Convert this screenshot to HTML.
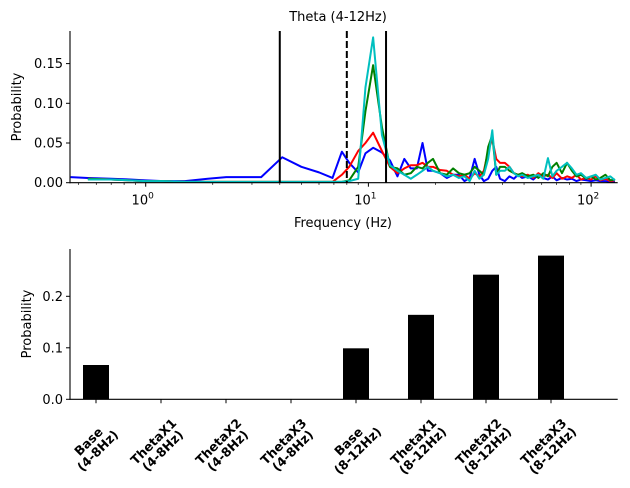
<!DOCTYPE html>
<html><head><meta charset="utf-8"><style>
html,body{margin:0;padding:0;background:#fff}
svg{display:block;font-family:"DejaVu Sans","Liberation Sans",sans-serif}
</style></head><body>
<svg id="fig" width="630" height="488" viewBox="0 0 630 488" xmlns="http://www.w3.org/2000/svg">
<g id="topPanel"></g>
<g id="botPanel"></g>
</svg>
<script>
const freqs=[0.46,0.55,0.7,0.85,1.0,1.2,1.5,1.9,2.3,3.3,4.1,5.0,6.0,6.9,7.6,8.2,9.0,9.7,10.5,11.5,12.5,13.5,14.5,15.5,16.5,17.5,18.5,19.5,21,22.5,24,25.5,27,28.5,30,31.5,33,34.5,36,37.5,39,41,43,45,47,49,52,55,58,61,64,67,70,74,78,82,86,90,95,100,105,110,116,122,128];
const blueVals=[0.007,0.006,0.005,0.004,0.003,0.002,0.002,0.005,0.007,0.007,0.032,0.02,0.013,0.006,0.039,0.025,0.013,0.037,0.044,0.038,0.028,0.008,0.03,0.018,0.018,0.05,0.015,0.015,0.012,0.006,0.01,0.01,0.002,0.006,0.03,0.01,0.002,0.005,0.015,0.02,0.005,0.002,0.008,0.005,0.01,0.006,0.008,0.004,0.01,0.006,0.004,0.008,0.003,0.006,0.004,0.005,0.002,0.004,0.003,0.002,0.003,0.002,0.002,0.001,0.001];
const redVals=[null,0.005,0.004,0.003,0.002,0.002,0.001,0.001,0.001,0.001,0.001,0.001,0.001,0.001,0.01,0.02,0.04,0.05,0.063,0.04,0.02,0.012,0.018,0.022,0.022,0.025,0.02,0.02,0.016,0.015,0.01,0.008,0.01,0.005,0.012,0.008,0.015,0.04,0.055,0.03,0.025,0.025,0.02,0.012,0.01,0.008,0.01,0.006,0.012,0.008,0.01,0.006,0.012,0.005,0.008,0.006,0.01,0.004,0.006,0.004,0.008,0.003,0.005,0.002,0.003];
const greenVals=[null,0.005,0.004,0.003,0.002,0.002,0.001,0.001,0.001,0.001,0.001,0.001,0.001,0.001,0.001,0.003,0.02,0.09,0.148,0.07,0.02,0.018,0.01,0.012,0.02,0.018,0.025,0.03,0.012,0.01,0.018,0.012,0.01,0.012,0.02,0.015,0.01,0.045,0.06,0.01,0.02,0.02,0.015,0.012,0.01,0.012,0.008,0.01,0.006,0.012,0.008,0.02,0.025,0.012,0.025,0.015,0.008,0.01,0.005,0.008,0.004,0.006,0.01,0.003,0.004];
const cyanVals=[null,0.004,0.004,0.003,0.002,0.002,0.001,0.001,0.001,0.001,0.001,0.001,0.001,0.001,0.001,0.002,0.005,0.12,0.183,0.06,0.022,0.015,0.01,0.005,0.01,0.015,0.02,0.015,0.012,0.008,0.01,0.006,0.008,0.002,0.015,0.005,0.01,0.03,0.066,0.01,0.015,0.015,0.02,0.012,0.008,0.01,0.006,0.008,0.01,0.005,0.031,0.008,0.015,0.02,0.025,0.018,0.01,0.012,0.006,0.008,0.01,0.004,0.006,0.008,0.003];
const yTicksTop=[0,0.05,0.10,0.15];
const yTickLabelsTop=["0.00","0.05","0.10","0.15"];
const bandLines=[4,8,12];
const barCats=[["Base","(4-8Hz)"],["ThetaX1","(4-8Hz)"],["ThetaX2","(4-8Hz)"],["ThetaX3","(4-8Hz)"],["Base","(8-12Hz)"],["ThetaX1","(8-12Hz)"],["ThetaX2","(8-12Hz)"],["ThetaX3","(8-12Hz)"]];
const barVals=[0.0666,0,0,0,0.099,0.164,0.242,0.279];
const yTicksBot=[0,0.1,0.2];
const yTickLabelsBot=["0.0","0.1","0.2"];

const NS="http://www.w3.org/2000/svg";
function mk(parent,tag,attrs,text){const e=document.createElementNS(NS,tag);for(const k in attrs)e.setAttribute(k,attrs[k]);if(text!==undefined)e.textContent=text;parent.appendChild(e);return e;}
const topG=document.getElementById('topPanel'), botG=document.getElementById('botPanel');
const L=70,R=617.7,T=31,B=182.7;
const xs=f=>145.7+222.7*Math.log10(f);
const ys=v=>B-v*794;
mk(topG,'defs',{}).innerHTML='<clipPath id="clipTop"><rect x="70" y="20" width="548" height="170"/></clipPath>';
const series=[[blueVals,'#0000ff','blue'],[redVals,'#ff0000','red'],[greenVals,'#008000','green'],[cyanVals,'#00bfbf','cyan']];
series.forEach(([vals,col,nm])=>{
  let d='';let started=false;
  vals.forEach((v,i)=>{if(v===null)return;d+=(started?'L':'M')+xs(freqs[i]).toFixed(2)+' '+ys(v).toFixed(2)+' ';started=true;});
  const p=mk(topG,'path',{d:d,fill:'none',stroke:col,'stroke-width':2,'stroke-linejoin':'round','clip-path':'url(#clipTop)'});
  
  
});
bandLines.forEach((f,i)=>{
  const ln=mk(topG,'line',{x1:xs(f),x2:xs(f),y1:T,y2:B,stroke:'#000','stroke-width':2});
  if(i===1)ln.setAttribute('stroke-dasharray','7,3');
  
  
});
const ya=mk(topG,'line',{x1:L,x2:L,y1:T,y2:B+0.5,stroke:'#000','stroke-width':1.1});


const xa=mk(topG,'line',{x1:L-0.5,x2:R,y1:B,y2:B,stroke:'#000','stroke-width':1.1});


yTicksTop.forEach((v,i)=>{
  mk(topG,'line',{x1:L-4,x2:L,y1:ys(v),y2:ys(v),stroke:'#000','stroke-width':1});
  const t=mk(topG,'text',{x:L-7,y:ys(v)+4.5,'text-anchor':'end','font-size':13},yTickLabelsTop[i]);
  
  
});
for(let dec=-1;dec<=2;dec++){for(let m=1;m<10;m++){const f=m*Math.pow(10,dec);const x=xs(f);if(x<L||x>R)continue;
  mk(topG,'line',{x1:x,x2:x,y1:B,y2:B+(m===1?4:2.2),stroke:'#000','stroke-width':m===1?1:0.7});
  if(m===1){const t=mk(topG,'text',{x:x-3,y:B+22,'text-anchor':'middle','font-size':13},'10');
    mk(t,'tspan',{dy:-6,'font-size':9},String(dec));
    
    }
}}
let t=mk(topG,'text',{x:338,y:21,'text-anchor':'middle','font-size':13},'Theta (4-12Hz)');


t=mk(topG,'text',{x:343,y:227,'text-anchor':'middle','font-size':13},'Frequency (Hz)');


t=mk(topG,'text',{x:21,y:107,'text-anchor':'middle','font-size':13,transform:'rotate(-90 21 107)'},'Probability');



const BL=70,BR=617.7,BT=249,BB=399.3;
const bx=i=>96+65*i;
const by=v=>BB-v*515;
barVals.forEach((v,i)=>{
  const r=mk(botG,'rect',{x:bx(i)-13,y:by(v),width:26,height:BB-by(v),fill:'#000'});
  
  
});
const bya=mk(botG,'line',{x1:BL,x2:BL,y1:BT,y2:BB+0.5,stroke:'#000','stroke-width':1.1});


const bxa=mk(botG,'line',{x1:BL-0.5,x2:BR,y1:BB,y2:BB,stroke:'#000','stroke-width':1.1});


yTicksBot.forEach((v,i)=>{
  mk(botG,'line',{x1:BL-4,x2:BL,y1:by(v),y2:by(v),stroke:'#000','stroke-width':1});
  const tt=mk(botG,'text',{x:BL-7,y:by(v)+4.5,'text-anchor':'end','font-size':13},yTickLabelsBot[i]);
  
  
});
barCats.forEach((c,i)=>{
  const x=bx(i);
  mk(botG,'line',{x1:x,x2:x,y1:BB,y2:BB+4,stroke:'#000','stroke-width':1});
  const cx=x-3,cy=446;
  const g=mk(botG,'g',{transform:`translate(${cx} ${cy}) rotate(-45)`});
  
  
  mk(g,'text',{x:0,y:-2,'text-anchor':'middle','font-size':12.5,'font-weight':'bold'},c[0]);
  mk(g,'text',{x:0,y:11,'text-anchor':'middle','font-size':12.5,'font-weight':'bold'},c[1]);
});
t=mk(botG,'text',{x:31,y:324,'text-anchor':'middle','font-size':13,transform:'rotate(-90 31 324)'},'Probability');


</script>
</body></html>
